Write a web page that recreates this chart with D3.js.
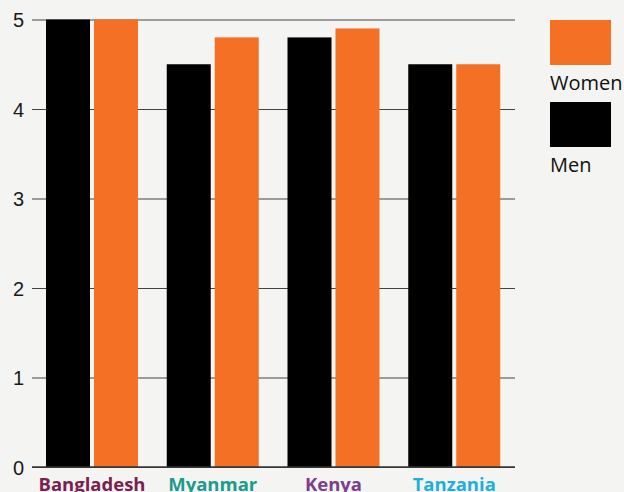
<!DOCTYPE html>
<html>
<head>
<meta charset="utf-8">
<script src="https://cdn.jsdelivr.net/npm/d3@7"></script>
<style>
  html, body { margin: 0; padding: 0; background: #f4f4f2; }
  svg { display: block; font-family: "Open Sans", "Noto Sans", sans-serif; }
</style>
</head>
<body>
<svg id="chart"></svg>
<script>
const countries = ["Bangladesh", "Myanmar", "Kenya", "Tanzania"];
const countryColors = ["#7a1f4e", "#1a9b8c", "#7b3f8e", "#1eaee0"];
const men = [5, 4.5, 4.8, 4.5];
const women = [5, 4.8, 4.9, 4.5];
const yTicks = [0, 1, 2, 3, 4, 5];
const seriesNames = ["Women", "Men"];
const seriesColors = ["#f47024", "#000000"];

const width = 624, height = 492;
const margin = {top: 19.5, left: 32, right: 109, bottom: 25};

const svg = d3.select("#chart").attr("width", width).attr("height", height);

const x = d3.scaleBand()
  .domain(countries)
  .range([margin.left, width - margin.right]);

const y = d3.scaleLinear()
  .domain([0, 5])
  .range([height - margin.bottom, margin.top]);

// gridlines + tick labels
const yAxis = d3.axisLeft(y)
  .tickValues(yTicks)
  .tickSize(-(width - margin.left - margin.right))
  .tickFormat(d3.format("d"));

const ga = svg.append("g")
  .attr("transform", `translate(${margin.left},0)`)
  .call(yAxis);
ga.select(".domain").remove();
ga.selectAll(".tick line").attr("stroke", "#444").attr("stroke-width", 1.2);
ga.selectAll(".tick text")
  .attr("x", -8)
  .attr("dy", "0.35em")
  .attr("fill", "#1a1a1a")
  .style("font-size", "20px");

// bars
const barW = 44, gap = 4, pad = 14;
const groups = svg.append("g").selectAll("g")
  .data(countries)
  .join("g")
  .attr("transform", d => `translate(${x(d)},0)`);

groups.append("rect")
  .attr("x", pad)
  .attr("width", barW)
  .attr("y", (d, i) => y(men[i]))
  .attr("height", (d, i) => y(0) - y(men[i]))
  .attr("fill", seriesColors[1]);

groups.append("rect")
  .attr("x", pad + barW + gap)
  .attr("width", barW)
  .attr("y", (d, i) => y(women[i]))
  .attr("height", (d, i) => y(0) - y(women[i]))
  .attr("fill", seriesColors[0]);

// baseline on top
svg.append("line")
  .attr("x1", margin.left).attr("x2", width - margin.right)
  .attr("y1", y(0)).attr("y2", y(0))
  .attr("stroke", "#333").attr("stroke-width", 1.5);

// category labels
groups.append("text")
  .attr("x", pad + barW + gap / 2)
  .attr("y", y(0) + 24)
  .attr("text-anchor", "middle")
  .attr("fill", (d, i) => countryColors[i])
  .style("font-size", "18.5px")
  .style("font-weight", "bold")
  .text(d => d);

// legend
const legend = svg.append("g").selectAll("g")
  .data(seriesNames)
  .join("g")
  .attr("transform", (d, i) => `translate(550,${20 + i * 82})`);

legend.append("rect")
  .attr("width", 61).attr("height", 45)
  .attr("fill", (d, i) => seriesColors[i]);

legend.append("text")
  .attr("x", 0).attr("y", 70)
  .attr("fill", "#111")
  .style("font-size", "20px")
  .text(d => d);
</script>
</body>
</html>
